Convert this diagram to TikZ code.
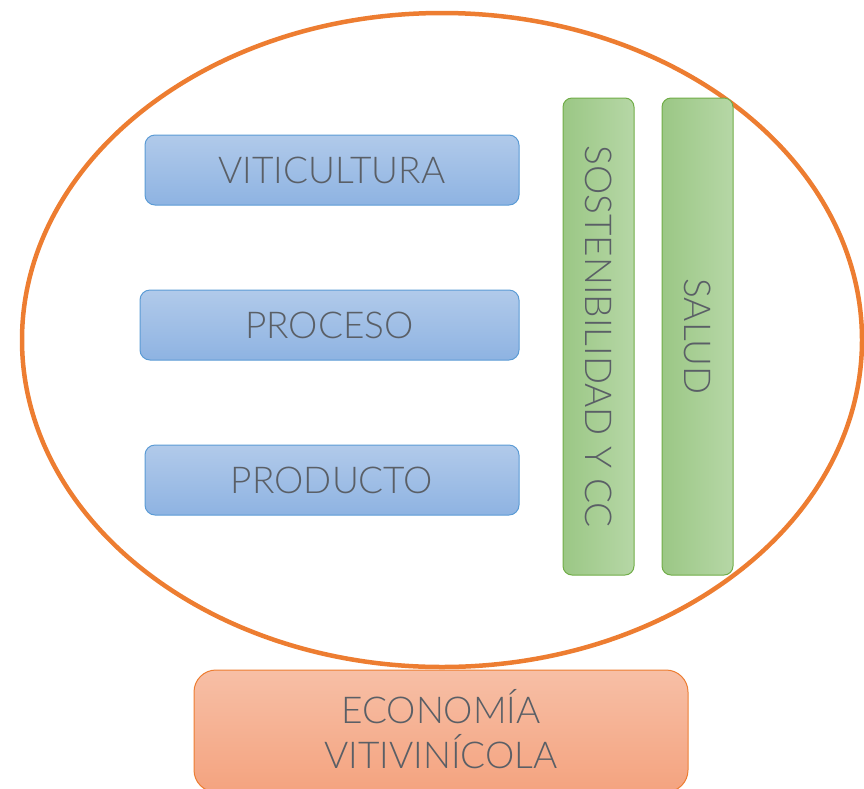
\documentclass[tikz,border=0pt]{standalone}
\usepackage{fontspec}
\setmainfont{Lato Light}
\definecolor{txt}{HTML}{5A5F66}
\definecolor{orng}{HTML}{ED7D31}
\definecolor{bluetop}{HTML}{B1CAEA}
\definecolor{bluebot}{HTML}{8EB3E2}
\definecolor{blueline}{HTML}{5B9BD5}
\definecolor{grnleft}{HTML}{9BC785}
\definecolor{grnright}{HTML}{B6D7A6}
\definecolor{grnline}{HTML}{70AD47}
\definecolor{ortop}{HTML}{F7BFA6}
\definecolor{orbot}{HTML}{F4A37F}
\tikzset{
  lbl/.style={text=txt, font=\fontsize{37}{45}\selectfont, inner sep=0pt, align=center},
  bluebox/.style={draw=blueline, line width=1pt, rounded corners=10pt, top color=bluetop, bottom color=bluebot, minimum height=70pt, inner sep=0pt},
  greenbar/.style={draw=grnline, line width=1pt, rounded corners=9pt, left color=grnleft, right color=grnright, minimum width=71pt, minimum height=477pt, inner sep=0pt},
  orbox/.style={draw=orng, line width=1pt, rounded corners=22pt, top color=ortop, bottom color=orbot, minimum width=494pt, minimum height=122pt, inner sep=0pt},
}
\begin{document}
\begin{tikzpicture}[x=1pt,y=-1pt]
\useasboundingbox (0,0) rectangle (864,788);
\clip (0,0) rectangle (864,788);
\draw[orng, line width=4.5pt] (442,340) ellipse [x radius=420pt, y radius=327pt];
\node[bluebox, minimum width=374pt] (vit) at (332,170) {};
\node[lbl] (vitt) at (vit.center) {VITICULTURA};
\node[bluebox, minimum width=379pt] (pro) at (329.5,325) {};
\node[lbl] (prot) at (pro.center) {PROCESO};
\node[bluebox, minimum width=374pt] (prd) at (332,480) {};
\node[lbl] (prdt) at (prd.center) {PRODUCTO};
\node[greenbar] (sos) at (598.5,336.5) {};
\node[lbl, rotate=-90] (sost) at (sos.center) {SOSTENIBILIDAD Y CC};
\node[greenbar] (sal) at (697.5,336.5) {};
\node[lbl, rotate=-90] (salt) at (sal.center) {SALUD};
\node[orbox] (eco) at (441,731) {};
\node[lbl] (ecot) at (441,729) {ECONOMÍA\\VITIVINÍCOLA};
\end{tikzpicture}
\end{document}
